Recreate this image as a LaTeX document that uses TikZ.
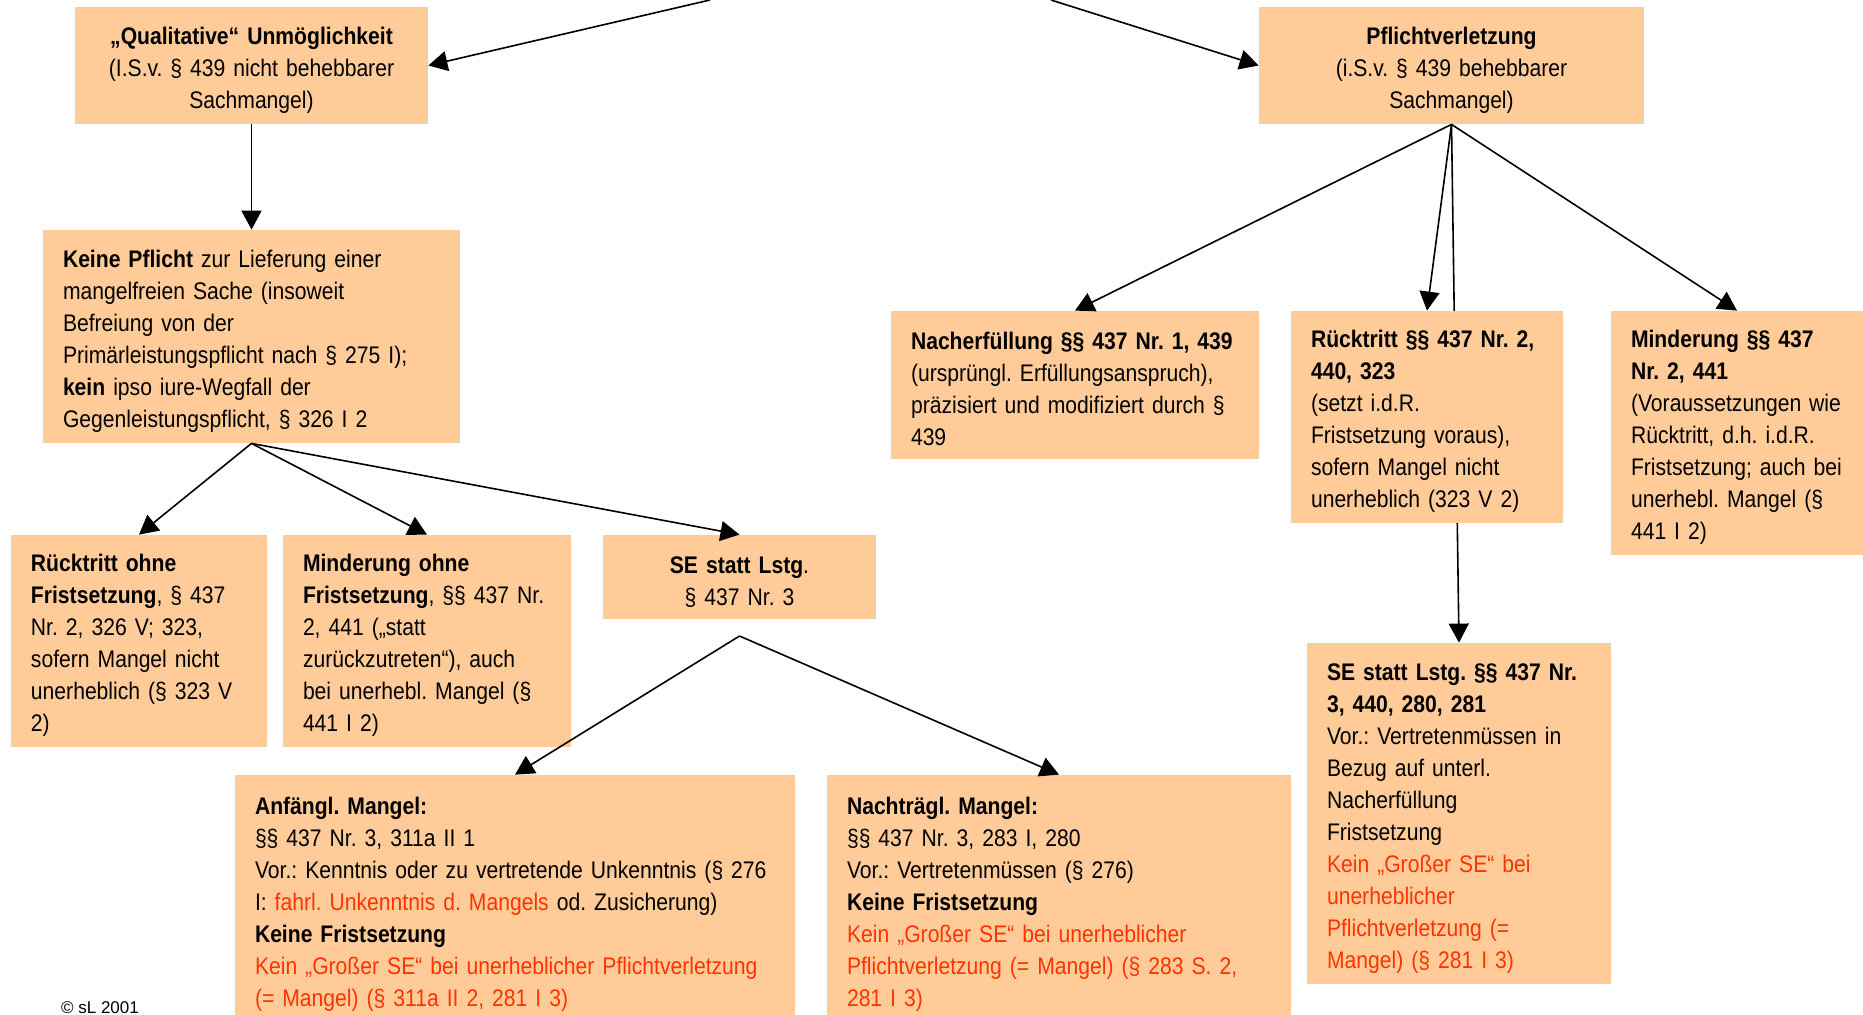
\documentclass[tikz,border=0pt]{standalone}
\usepackage{fontspec}
\setmainfont{Liberation Sans}[FakeStretch=0.88]
\newfontfamily\plainsans{Liberation Sans}
\usepackage{xcolor}
\usetikzlibrary{arrows.meta,backgrounds}
\definecolor{boxfill}{HTML}{FFCC99}
\definecolor{redtext}{HTML}{FF3300}
\newcommand{\rt}[1]{\textcolor{redtext}{#1}}
\frenchspacing

\begin{document}
\begin{tikzpicture}[x=0.5pt,y=-0.5pt,
  box/.style={fill=boxfill, inner xsep=10pt, inner ysep=0pt, align=left,
    font=\fontsize{12pt}{16pt}\selectfont,
    execute at begin node={\rule{0pt}{13pt}}},
  cbox/.style={box, align=center},
  arr/.style={-{Triangle[length=9.5pt,width=10pt]}, line width=0.8pt}]
\useasboundingbox (0,0) rectangle (1863,1014);

\node[cbox, text width=156.5pt, minimum height=58.5pt] (qual) at (251.5,65.5)
  {\textbf{„Qualitative“ Unmöglichkeit}\\(I.S.v. § 439 nicht behebbarer\\Sachmangel)};
\node[cbox, text width=172.5pt, minimum height=58.5pt] (pflicht) at (1451.5,65.5)
  {\textbf{Pflichtverletzung}\\(i.S.v. § 439 behebbarer\\Sachmangel)};

\node[box, text width=188.5pt, minimum height=106.5pt] (keine) at (251.5,336.5)
  {\textbf{Keine Pflicht} zur Lieferung einer\\mangelfreien Sache (insoweit\\Befreiung von der\\Primärleistungspflicht nach § 275 I);\\\textbf{kein} ipso iure-Wegfall der\\Gegenleistungspflicht, § 326 I 2};

\node[box, text width=108pt, minimum height=106pt] (rohne) at (139,641)
  {\textbf{Rücktritt ohne}\\\textbf{Fristsetzung}, § 437\\Nr. 2, 326 V; 323,\\sofern Mangel nicht\\unerheblich (§ 323 V\\2)};
\node[box, text width=124pt, minimum height=106pt] (mohne) at (427,641)
  {\textbf{Minderung ohne}\\\textbf{Fristsetzung}, §§ 437 Nr.\\2, 441 („statt\\zurückzutreten“), auch\\bei unerhebl. Mangel (§\\441 I 2)};
\node[cbox, text width=116.5pt, minimum height=42pt] (se) at (739.5,577)
  {\textbf{SE statt Lstg}.\\§ 437 Nr. 3};
\coordinate (sefork) at (739.5,636);

\node[box, text width=260pt, minimum height=124.5pt] (anf) at (515,899.5)
  {\textbf{Anfängl. Mangel:}\\§§ 437 Nr. 3, 311a II 1\\Vor.: Kenntnis oder zu vertretende Unkenntnis (§ 276\\I: \rt{fahrl. Unkenntnis d. Mangels} od. Zusicherung)\\\textbf{Keine Fristsetzung}\\\rt{Kein „Großer SE“ bei unerheblicher Pflichtverletzung}\\\rt{(= Mangel) (§ 311a II 2, 281 I 3)}};
\node[box, text width=212pt, minimum height=124.5pt] (nach) at (1059,899.5)
  {\textbf{Nachträgl. Mangel:}\\§§ 437 Nr. 3, 283 I, 280\\Vor.: Vertretenmüssen (§ 276)\\\textbf{Keine Fristsetzung}\\\rt{Kein „Großer SE“ bei unerheblicher}\\\rt{Pflichtverletzung (= Mangel) (§ 283 S. 2,}\\\rt{281 I 3)}};

\node[box, text width=164pt, minimum height=74pt] (nacherf) at (1075,385)
  {\textbf{Nacherfüllung §§ 437 Nr. 1, 439}\\(ursprüngl. Erfüllungsanspruch),\\präzisiert und modifiziert durch §\\439};
\node[box, text width=116pt, minimum height=106pt] (rueck) at (1427,417)
  {\textbf{Rücktritt §§ 437 Nr. 2,}\\\textbf{440, 323}\\(setzt i.d.R.\\Fristsetzung voraus),\\sofern Mangel nicht\\unerheblich (323 V 2)};
\node[box, text width=116pt, minimum height=122pt] (minder) at (1747,433)
  {\textbf{Minderung §§ 437}\\\textbf{Nr. 2, 441}\\(Voraussetzungen wie\\Rücktritt, d.h. i.d.R.\\Fristsetzung; auch bei\\unerhebl. Mangel (§\\441 I 2)};
\node[box, text width=132pt, minimum height=170.5pt] (ser) at (1459,813.5)
  {\textbf{SE statt Lstg. §§ 437 Nr.}\\\textbf{3, 440, 280, 281}\\Vor.: Vertretenmüssen in\\Bezug auf unterl.\\Nacherfüllung\\Fristsetzung\\\rt{Kein „Großer SE“ bei}\\\rt{unerheblicher}\\\rt{Pflichtverletzung (=}\\\rt{Mangel) (§ 281 I 3)}};

\node[font=\plainsans\fontsize{8.5pt}{10pt}\selectfont, anchor=base, inner sep=0pt] (copy) at (100,1013) {© sL 2001};

\coordinate (topL) at (710,0);
\coordinate (topR) at (1051,0);
\draw[arr] (topL) -- (qual.east);
\draw[arr] (topR) -- (pflicht.west);
\draw[arr] (qual.south) -- (keine.north);
\draw[arr] (keine.south) -- (rohne.north);
\draw[arr] (keine.south) -- (mohne.north);
\draw[arr] (keine.south) -- (se.north);
\draw[arr] (sefork) -- (anf.north);
\draw[arr] (sefork) -- (nach.north);
\draw[arr] (pflicht.south) -- (nacherf.north);
\draw[arr] (pflicht.south) -- (rueck.north);
\draw[arr] (pflicht.south) -- ([xshift=-5pt]minder.north);
\begin{scope}[on background layer]
\draw[arr] (pflicht.south) -- (ser.north);
\end{scope}
\end{tikzpicture}
\end{document}
